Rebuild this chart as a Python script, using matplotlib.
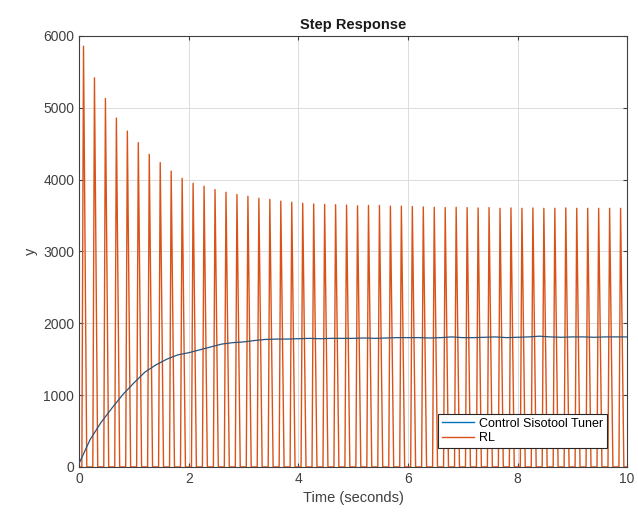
import numpy as np
import matplotlib
matplotlib.use("Agg")
import matplotlib.pyplot as plt

plt.rcParams['font.family'] = ['Liberation Sans', 'DejaVu Sans']

# Closed-loop step response of the tuned controller, sampled every 0.2 s
tuner_time = [0.0, 0.2, 0.4, 0.6, 0.8, 1.0, 1.2, 1.4, 1.6, 1.8, 2.0, 2.2, 2.4, 2.6, 2.8,
              3.0, 3.2, 3.4, 3.6, 3.8, 4.0, 4.2, 4.4, 4.6, 4.8, 5.0, 5.2, 5.4, 5.6, 5.8,
              6.0, 6.2, 6.4, 6.6, 6.8, 7.0, 7.2, 7.4, 7.6, 7.8, 8.0, 8.2, 8.4, 8.6, 8.8,
              9.0, 9.2, 9.4, 9.6, 9.8, 10.0]
tuner_y = [50, 380, 620, 820, 1010, 1170, 1320, 1420, 1500, 1560, 1590, 1630, 1670, 1710, 1730,
           1740, 1760, 1775, 1780, 1780, 1785, 1790, 1785, 1790, 1790, 1790, 1795, 1790, 1795, 1800,
           1800, 1800, 1795, 1800, 1810, 1800, 1800, 1805, 1810, 1800, 1805, 1810, 1820, 1810, 1805,
           1810, 1810, 1805, 1810, 1810, 1810]

# Root-locus design: pulse peaks, one every 0.2 s
rl_peak_time = [0.08 + 0.2 * k for k in range(50)]
rl_peaks = [5856, 5417, 5129, 4857, 4675, 4514, 4351, 4236, 4119, 4018,
            3949, 3907, 3861, 3824, 3792, 3768, 3740, 3725, 3700, 3685,
            3670, 3660, 3655, 3650, 3645, 3635, 3640, 3640, 3630, 3630,
            3625, 3620, 3615, 3610, 3615, 3610, 3605, 3610, 3600, 3605,
            3600, 3605, 3600, 3600, 3605, 3600, 3600, 3600, 3600, 3600]
rise_width = 0.03
fall_width = 0.06

# Build the pulse train: zero between pulses, narrow triangle at each peak
rl_t = [0.0]
rl_y = [0.0]
for tp, yp in zip(rl_peak_time, rl_peaks):
    rl_t += [tp - rise_width, tp, tp + fall_width]
    rl_y += [0.0, yp, 0.0]
rl_t.append(10.0)
rl_y.append(0.0)

fig = plt.figure(figsize=(6.38, 5.2), dpi=100)
ax = fig.add_axes([0.124, 0.102, 0.859, 0.829])

blue = '#0072BD'
orange = '#D95319'
ax.plot(tuner_time, tuner_y, color='#2c5378', lw=0.9, zorder=3)
ax.plot(rl_t, rl_y, color=orange, lw=1.0, zorder=2)
# legend handles in the standard line colours
ax.plot([], [], color=blue, lw=1.0, label='Control Sisotool Tuner')
ax.plot([], [], color=orange, lw=1.0, label='RL')

ax.set_xlim(0, 10)
ax.set_ylim(0, 6000)
ax.set_xticks([0, 2, 4, 6, 8, 10])
ax.set_yticks([0, 1000, 2000, 3000, 4000, 5000, 6000])
ax.grid(True, color='#dcdcdc', lw=0.7)
ax.set_axisbelow(True)

ax.tick_params(direction='in', top=True, right=True, length=3, labelsize=10,
               colors='#404040', labelcolor='#404040')
for s in ax.spines.values():
    s.set_color('#404040')
    s.set_linewidth(0.8)

ax.set_title('Step Response', fontsize=10.5, fontweight='bold', color='#1a1a1a', pad=5)
ax.set_xlabel('Time (seconds)', fontsize=10.5, color='#404040')
ax.set_ylabel('y', fontsize=10.5, color='#404040')

leg = ax.legend(loc='lower right', bbox_to_anchor=(0.975, 0.03), fontsize=9,
                frameon=True, fancybox=False, framealpha=1, edgecolor='#262626',
                handlelength=2.6, borderpad=0.3, labelspacing=0.2, handletextpad=0.4)
leg.get_frame().set_linewidth(0.8)

fig.savefig('out.png', dpi=100, facecolor='white')
